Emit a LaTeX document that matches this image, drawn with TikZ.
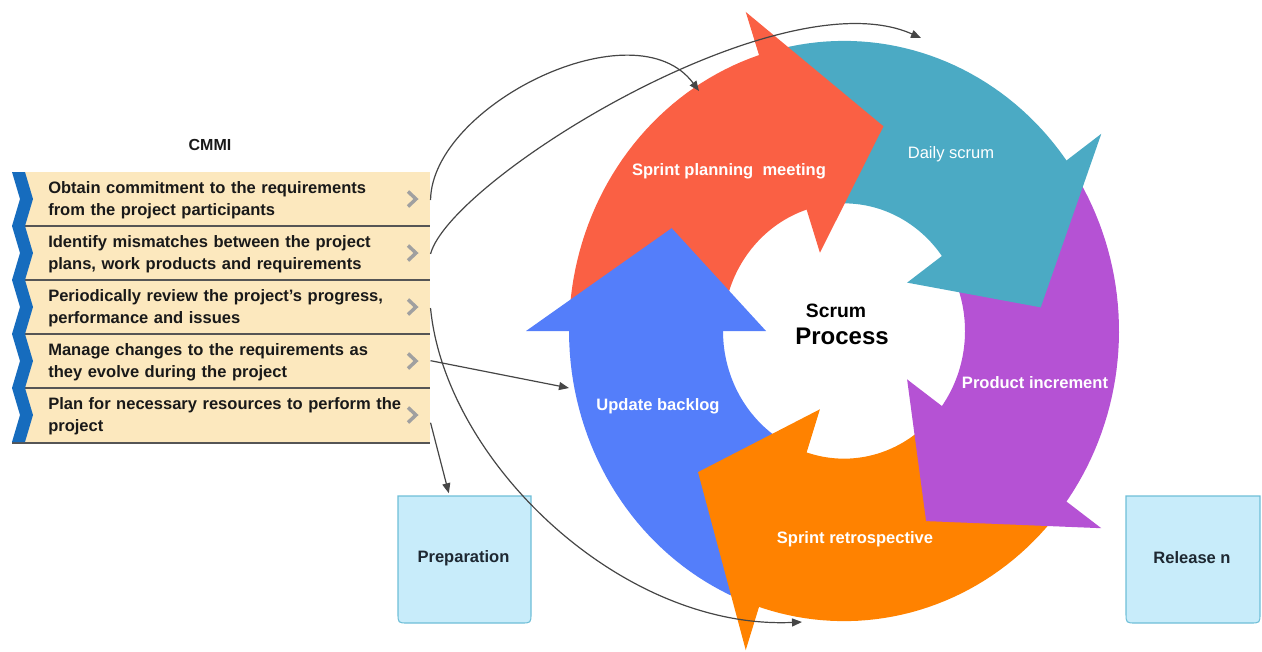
\documentclass[tikz,border=0pt]{standalone}
\usepackage{fontspec}
\setmainfont{Liberation Sans}
\usetikzlibrary{arrows.meta,calc}

\definecolor{planred}{RGB}{250,96,68}
\definecolor{dailyteal}{RGB}{75,170,196}
\definecolor{incpurple}{RGB}{181,82,212}
\definecolor{retroorange}{RGB}{255,130,0}
\definecolor{backblue}{RGB}{84,126,250}
\definecolor{rowbeige}{RGB}{252,232,190}
\definecolor{rowline}{RGB}{85,85,85}
\definecolor{chevblue}{RGB}{22,108,190}
\definecolor{chevgray}{RGB}{160,160,160}
\definecolor{txtdark}{RGB}{25,25,25}
\definecolor{boxfill}{RGB}{200,236,250}
\definecolor{boxedge}{RGB}{110,190,215}
\definecolor{boxtext}{RGB}{30,40,50}
\definecolor{conngray}{RGB}{70,70,70}

% band of the cycle between two angles, and the arrow head at a base angle
\newcommand\scrumbody[3]{\fill[#1] plot[domain=#2:#3,samples=40] (\x:275) -- plot[domain=#3:#2,samples=40] (\x:121) -- cycle;}
\newcommand\scrumhead[2]{\fill[#1] (#2:78) -- ({#2-29.5}:198) -- (#2:318) -- cycle;}

\tikzset{
  rowtext/.style={anchor=west, text width=286.5pt, inner sep=0pt, align=left,
    font=\bfseries\fontsize{12.4}{16.5}\selectfont, text=txtdark},
  lbl/.style={text=white, inner sep=0pt, font=\bfseries\fontsize{12.4}{14}\selectfont},
  conn/.style={draw=conngray, line width=0.9pt, -{Triangle[length=7.5pt,width=6pt]}},
  boxline/.style={draw=boxedge, fill=boxfill, line width=0.8pt},
  boxlabel/.style={font=\bfseries\fontsize{12.4}{14}\selectfont, text=boxtext,
    minimum width=99.75pt, minimum height=95.25pt, inner sep=0pt},
  graychev/.style={draw=chevgray, line width=2.6pt},
}

\begin{document}
\begin{tikzpicture}[x=0.75pt,y=-0.75pt]
\useasboundingbox (0,0) rectangle (1262,651);

% ---- Scrum cycle: each band starts under the previous arrow head ----
\begin{scope}[shift={(844,331)}, yscale=-1.055]
  \scrumbody{backblue}{249}{177}
  \scrumbody{planred}{177}{104.5}
  \scrumbody{dailyteal}{105}{33}
  \scrumbody{incpurple}{33}{-39}
  \scrumbody{retroorange}{-39}{-111}
  \scrumhead{backblue}{180}
  \scrumhead{planred}{108}
  \scrumhead{dailyteal}{36}
  \scrumhead{incpurple}{-36}
  \scrumhead{retroorange}{-108}
\end{scope}

\node[lbl] (plan) at (729,171) {Sprint planning\ \ meeting};
\node[lbl, font=\fontsize{12.4}{14}\selectfont] (daily) at (951,154) {Daily scrum};
\node[lbl] (incr) at (1035,383) {Product increment};
\node[lbl] (retro) at (855,539) {Sprint retrospective};
\node[lbl] (back) at (658,406) {Update backlog};

\node[inner sep=0pt, font=\bfseries\fontsize{14.5}{16}\selectfont] (scrum) at (836,311) {Scrum};
\node[inner sep=0pt, font=\bfseries\fontsize{18}{20}\selectfont] (proc) at (842,336) {Process};

% ---- CMMI list ----
\node[inner sep=0pt, font=\bfseries\fontsize{12}{14}\selectfont, text=txtdark] (cmmi) at (210,145) {CMMI};
\fill[rowbeige] (20,172) rectangle (430,443);
\foreach \y in {226,280,334,388,443}
  \draw[rowline, line width=0.8pt] (12,\y) -- (430,\y);
\foreach \y in {172,226,280,334,388}
  \fill[chevblue] (12,\y) -- (25,\y) -- (33,\y+27) -- (25,\y+54) -- (12,\y+54) -- (20,\y+27) -- cycle;
\foreach \i/\yc/\txt in {
  1/200/{Obtain commitment to the requirements\\from the project participants},
  2/254/{Identify mismatches between the project\\plans, work products and requirements},
  3/308/{Periodically review the project's progress,\\performance and issues},
  4/362/{Manage changes to the requirements as\\they evolve during the project},
  5/416/{Plan for necessary resources to perform the\\project}}
{
  \node[rowtext] (r\i) at (48,\yc) {\txt};
  \draw[graychev] (408,\yc-8.5) -- (416,\yc-1) -- (408,\yc+6.5);
}

% ---- phase boxes ----
\draw[boxline] (398,496) -- (398,613) .. controls (398,623) .. (408,623) -- (521,623)
  .. controls (531,623) .. (531,613) -- (531,496) -- cycle;
\node[boxlabel] (prep) at (463.5,558) {Preparation};
\draw[boxline] (1126,496) -- (1126,613) .. controls (1126,623) .. (1136,623) -- (1250,623)
  .. controls (1260,623) .. (1260,613) -- (1260,496) -- cycle;
\node[boxlabel] (rel) at (1192,558) {Release n};

% ---- connectors ----
\coordinate (tgtPlan) at (699,91);
\coordinate (tgtDaily) at (921,38);
\coordinate (tgtRetro) at (802,622);
\coordinate (tgtBack) at (569,388);
\draw[conn] (r1.east) .. controls (432,105) and (635,5) .. (tgtPlan);
\draw[conn] (r2.east) .. controls (450,180) and (780,-25) .. (tgtDaily);
\draw[conn] (r3.east) .. controls (445,460) and (620,630) .. (tgtRetro);
\draw[conn] ([yshift=1pt]r4.east) -- (tgtBack);
\draw[conn] ([yshift=-5pt]r5.east) -- ($(prep.north west)!0.39!(prep.north east)+(0,-1)$);
\end{tikzpicture}
\end{document}
